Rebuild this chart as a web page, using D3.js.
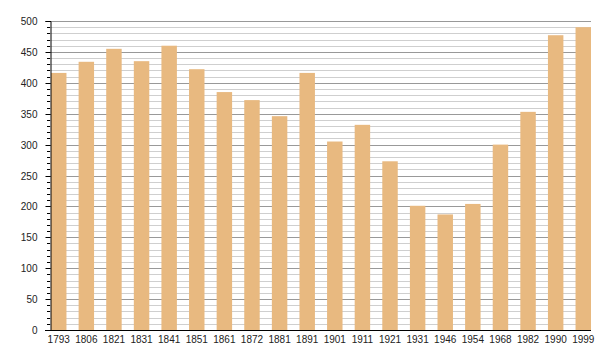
<!DOCTYPE html>
<html><head><meta charset="utf-8">
<script src="https://cdn.jsdelivr.net/npm/d3@7"></script>
<style>body{margin:0;background:#fff}svg{display:block}</style>
</head><body>
<svg id="c" width="600" height="360"></svg>
<script>
const years = ["1793","1806","1821","1831","1841","1851","1861","1872","1881","1891","1901","1911","1921","1931","1946","1954","1968","1982","1990","1999"];
const population = [416,434,455,435,460,422,385,372,346,416,305,332,273,201,187,204,300,353,477,490];
const yMajorTicks = [0,50,100,150,200,250,300,350,400,450,500];

const svg = d3.select("#c");
const mLeft = 50, mRight = 591, mTop = 21, mBottom = 330;
const x = d3.scaleBand().domain(years).range([mLeft+1, mRight]).paddingInner(0.44).paddingOuter(0);
const y = d3.scaleLinear().domain([0,500]).range([mBottom, mTop]);
const minor = d3.range(0, 501, 10);
const font = "Liberation Sans, Arial, sans-serif";

svg.append("g").selectAll("line").data(minor.filter(v => v % 50 !== 0)).join("line")
  .attr("x1", mLeft).attr("x2", mRight).attr("y1", d => Math.round(y(d))+0.5).attr("y2", d => Math.round(y(d))+0.5)
  .attr("stroke", "#cfcfcf").attr("stroke-width", 1);
svg.append("g").selectAll("line").data(yMajorTicks.filter(v => v > 0)).join("line")
  .attr("x1", mLeft).attr("x2", mRight).attr("y1", d => Math.round(y(d))+0.5).attr("y2", d => Math.round(y(d))+0.5)
  .attr("stroke", "#999").attr("stroke-width", 1);

svg.append("g").selectAll("rect").data(years).join("rect")
  .attr("x", d => x(d)).attr("width", x.bandwidth())
  .attr("y", (d,i) => y(population[i])).attr("height", (d,i) => mBottom - y(population[i]))
  .attr("fill", "#e8b980");

// y axis
const ya = svg.append("g").attr("transform", `translate(${mLeft+0.5},0)`)
  .call(d3.axisLeft(y).tickValues(yMajorTicks).tickSize(5).tickPadding(8).tickFormat(d3.format("d")));
ya.select(".domain").attr("stroke", "#000");
ya.selectAll(".tick").attr("transform", d => `translate(0,${Math.round(y(d))+0.5})`);
ya.selectAll(".tick line").attr("stroke", "#000");
ya.selectAll("text").attr("font-family", font).attr("font-size", 10).attr("fill", "#222");
svg.append("g").selectAll("line").data(minor.filter(v => v % 50 !== 0)).join("line")
  .attr("x1", mLeft-3).attr("x2", mLeft).attr("y1", d => Math.round(y(d))+0.5).attr("y2", d => Math.round(y(d))+0.5)
  .attr("stroke", "#000");

// x axis
const xa = svg.append("g").attr("transform", `translate(0,${mBottom+0.5})`)
  .call(d3.axisBottom(x).tickSize(0).tickPadding(5));
xa.select(".domain").attr("d", `M${mLeft-5},0H${mRight}`).attr("stroke", "#000");
xa.selectAll("text").attr("font-family", font).attr("font-size", 10).attr("fill", "#222");
</script>
</body></html>
